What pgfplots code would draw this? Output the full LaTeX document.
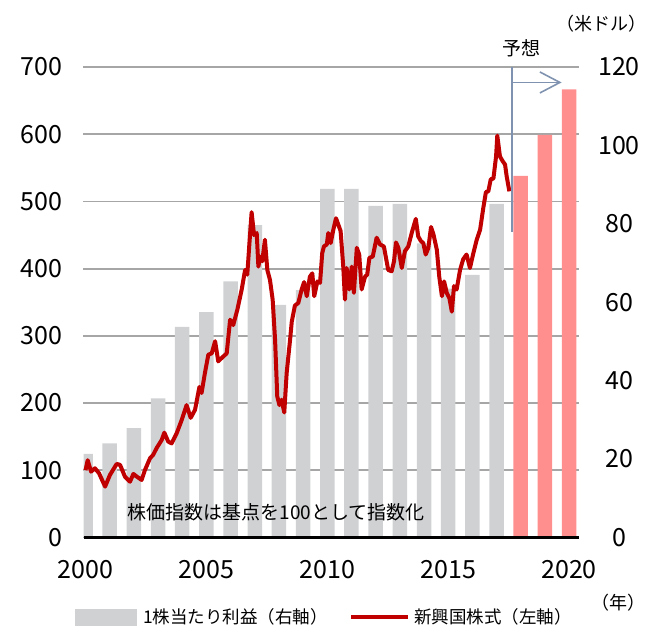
\documentclass[border=0pt]{standalone}
\usepackage{fontspec}
\setmainfont{Noto Sans CJK JP}
\usepackage{pgfplots}
\pgfplotsset{compat=1.18}
\usetikzlibrary{arrows.meta}
\definecolor{barg}{HTML}{D0D1D3}
\definecolor{barp}{HTML}{FF8F8F}
\definecolor{linered}{HTML}{C00000}
\definecolor{gridg}{HTML}{A6A6A6}
\definecolor{fc}{HTML}{7F93B0}
\pgfplotsset{
  base/.style={
    at={(0,0)}, anchor=south west, scale only axis,
    width=495.5bp, height=470.5bp,
    xmin=1999.917, xmax=2020.41,
    axis line style={draw=none},
    major tick length=0pt,
    tick label style={font=\fontsize{25bp}{30bp}\selectfont},
    /pgf/number format/assume math mode=true,
    /pgf/number format/1000 sep={},
  }
}
\begin{document}
\begin{tikzpicture}[x=1bp,y=1bp]
\path[use as bounding box] (-83.5,-88.5) rectangle (562.5,537.5);
% left scale: grid and tick labels
\begin{axis}[base,
  ymin=0, ymax=700, ytick={0,100,...,700},
  ymajorgrids, grid style={gridg, line width=1.8bp},
  xtick={2000,2005,2010,2015,2020},
  xtick pos=bottom, ytick pos=left,
  xticklabel style={yshift=-19bp},
  yticklabel style={xshift=-18bp},
]
\end{axis}
% right scale: bars
\begin{axis}[base,
  ymin=0, ymax=120, ytick={0,20,...,120},
  ytick pos=right, yticklabel pos=right,
  yticklabel style={anchor=center, xshift=40bp},
  xtick=\empty,
]
\addplot[ybar, bar width=14.5bp, bar shift=0pt, fill=barg, draw=none] coordinates {
(2000,21.3) (2001,24.0) (2002,27.9) (2003,35.5) (2004,53.7) (2005,57.5)
(2006,65.3) (2007,79.7) (2008,59.3) (2009,63.1) (2010,88.9) (2011,88.9)
(2012,84.6) (2013,85.1) (2014,75.0) (2015,63.5) (2016,67.0) (2017,85.1)
};
\addplot[ybar, bar width=14.5bp, bar shift=0pt, fill=barp, draw=none] coordinates {
(2018,92.2) (2019,102.7) (2020,114.3)
};
\end{axis}
% left scale: index line
\begin{axis}[base,
  ymin=0, ymax=700, xtick=\empty, ytick=\empty, clip=false,
]
\addplot[linered, line width=4bp, line join=round] coordinates {
(2000.00,100) (2000.09,115) (2000.23,98) (2000.39,103) (2000.56,95.6) (2000.81,75.7)
(2001.01,93) (2001.29,109.5) (2001.43,108) (2001.63,90.6) (2001.84,83) (2001.98,94.6)
(2002.12,90.6) (2002.32,85.6) (2002.46,100.5) (2002.67,118) (2002.80,123) (2002.94,133)
(2003.15,145) (2003.26,156) (2003.42,142.7) (2003.56,140) (2003.77,155) (2003.98,175)
(2004.18,197) (2004.35,178) (2004.53,190) (2004.71,224) (2004.80,215) (2004.94,245)
(2005.08,272) (2005.22,274) (2005.36,292) (2005.49,262) (2005.63,267) (2005.84,274)
(2005.98,324) (2006.11,316) (2006.28,339) (2006.46,369) (2006.60,398) (2006.69,391)
(2006.77,433) (2006.87,484) (2006.97,450) (2007.08,453) (2007.15,403) (2007.22,418)
(2007.31,411) (2007.42,443) (2007.52,398) (2007.63,383) (2007.74,354) (2007.84,294)
(2007.93,210) (2008.02,197) (2008.11,205) (2008.22,186) (2008.32,245) (2008.46,294)
(2008.53,321) (2008.66,345) (2008.80,349) (2008.94,369) (2009.04,380) (2009.15,359)
(2009.28,388) (2009.38,393) (2009.46,359) (2009.59,381) (2009.70,379) (2009.79,423)
(2009.86,433) (2009.98,436) (2010.04,453) (2010.14,438) (2010.25,458) (2010.36,475)
(2010.46,465) (2010.55,456) (2010.66,403) (2010.73,354) (2010.80,401) (2010.91,369)
(2011.01,403) (2011.10,364) (2011.22,431) (2011.32,421) (2011.42,369) (2011.56,388)
(2011.65,391) (2011.74,416) (2011.88,418) (2012.04,446) (2012.18,436) (2012.34,433)
(2012.52,398) (2012.66,396) (2012.76,411) (2012.84,439) (2012.94,431) (2013.08,401)
(2013.21,426) (2013.35,433) (2013.49,453) (2013.66,474) (2013.76,448) (2013.87,441)
(2013.97,438) (2014.07,421) (2014.18,431) (2014.29,462) (2014.39,451) (2014.53,428)
(2014.63,388) (2014.74,359) (2014.83,381) (2014.94,364) (2015.05,356) (2015.15,336)
(2015.24,374) (2015.35,369) (2015.49,398) (2015.62,414) (2015.76,421) (2015.90,401)
(2016.04,423) (2016.18,443) (2016.32,458) (2016.45,490) (2016.56,514) (2016.66,515)
(2016.76,533) (2016.87,534) (2016.98,567) (2017.03,598) (2017.14,567) (2017.25,560)
(2017.35,555) (2017.42,537) (2017.53,515)
};
\draw[black, line width=2.7bp] (rel axis cs:0,0) -- (rel axis cs:1,0);
\draw[fc, line width=2bp] (axis cs:2017.62,700) -- (axis cs:2017.62,454);
\draw[fc, line width=1.6bp, -{Straight Barb[length=20bp, width=21bp, line width=1.6bp]}] (axis cs:2017.62,677) -- (axis cs:2019.69,677);
\node[font=\fontsize{19bp}{22bp}\selectfont] at (axis cs:2007.88,38) {株価指数は基点を100として指数化};
\end{axis}
% outside texts and legend
\node[font=\fontsize{19bp}{22bp}\selectfont] at (437.5,489.5) {予想};
\node[font=\fontsize{18bp}{22bp}\selectfont] at (517.5,513.5) {（米ドル）};
\node[font=\fontsize{18bp}{22bp}\selectfont] at (534.5,-65.5) {（年）};
\fill[barg] (-9,-88.5) rectangle (53.1,-71.5);
\node[anchor=west, inner sep=0pt, font=\fontsize{17.5bp}{20bp}\selectfont] at (59.5,-79.5) {1株当たり利益（右軸）};
\draw[linered, line width=4bp] (267.5,-79.5) -- (324.5,-79.5);
\node[anchor=west, inner sep=0pt, font=\fontsize{17.5bp}{20bp}\selectfont] at (330.5,-79.5) {新興国株式（左軸）};
\end{tikzpicture}
\end{document}
